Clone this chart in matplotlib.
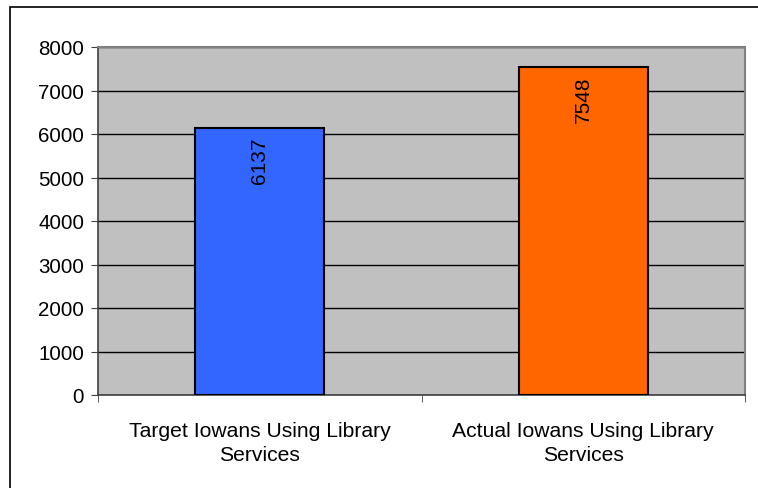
import matplotlib
matplotlib.use("Agg")
import matplotlib.pyplot as plt
from matplotlib.patches import Rectangle

categories = ["Target Iowans Using Library\nServices", "Actual Iowans Using Library\nServices"]
values = [6137, 7548]
colors = ["#3366FF", "#FF6600"]
yticks = [0, 1000, 2000, 3000, 4000, 5000, 6000, 7000, 8000]

plt.rcParams['font.family'] = ['Liberation Sans', 'DejaVu Sans']

fig = plt.figure(figsize=(7.58, 4.89), dpi=100)
fig.patch.set_facecolor("white")
# outer chart frame (right and bottom edges fall outside the image)
fig.patches.append(Rectangle((10/758, -0.1), 1.2, 1 - 8/489 + 0.1,
                             transform=fig.transFigure, fill=False,
                             edgecolor="black", linewidth=1.2))

ax = fig.add_axes([98/758, 1 - 396/489, (745 - 98)/758, (396 - 48)/489])
ax.set_facecolor("#C0C0C0")
x = list(range(len(categories)))
ax.bar(x, values, width=0.4, color=colors, edgecolor="black", linewidth=1.5, zorder=3)
ax.set_xlim(-0.5, len(categories) - 0.5)
ax.set_ylim(0, 8000)
ax.set_yticks(yticks)
ax.set_yticklabels([str(t) for t in yticks], fontsize=14.8)
ax.yaxis.grid(True, color="black", linewidth=1.0, zorder=1)
ax.set_axisbelow(True)

ax.set_xticks(x)
ax.set_xticklabels(categories, fontsize=15.2, linespacing=1.3)
ax.tick_params(axis='x', length=0, pad=19)
ax.set_xticks([-0.5, 0.5, 1.5], minor=True)
ax.tick_params(axis='x', which='minor', length=5, color="#404040", direction='out')
ax.tick_params(axis='y', length=5, color="#404040", direction='out', pad=5)

for s in ['top', 'right']:
    ax.spines[s].set_color("#808080")
    ax.spines[s].set_linewidth(1.5)
for s in ['left', 'bottom']:
    ax.spines[s].set_color("#404040")
    ax.spines[s].set_linewidth(1.2)

for xi, v in zip(x, values):
    ax.text(xi, v - 200, str(v), rotation=90, ha='center', va='top',
            fontsize=15, zorder=4)

fig.savefig("out.png", dpi=100)
